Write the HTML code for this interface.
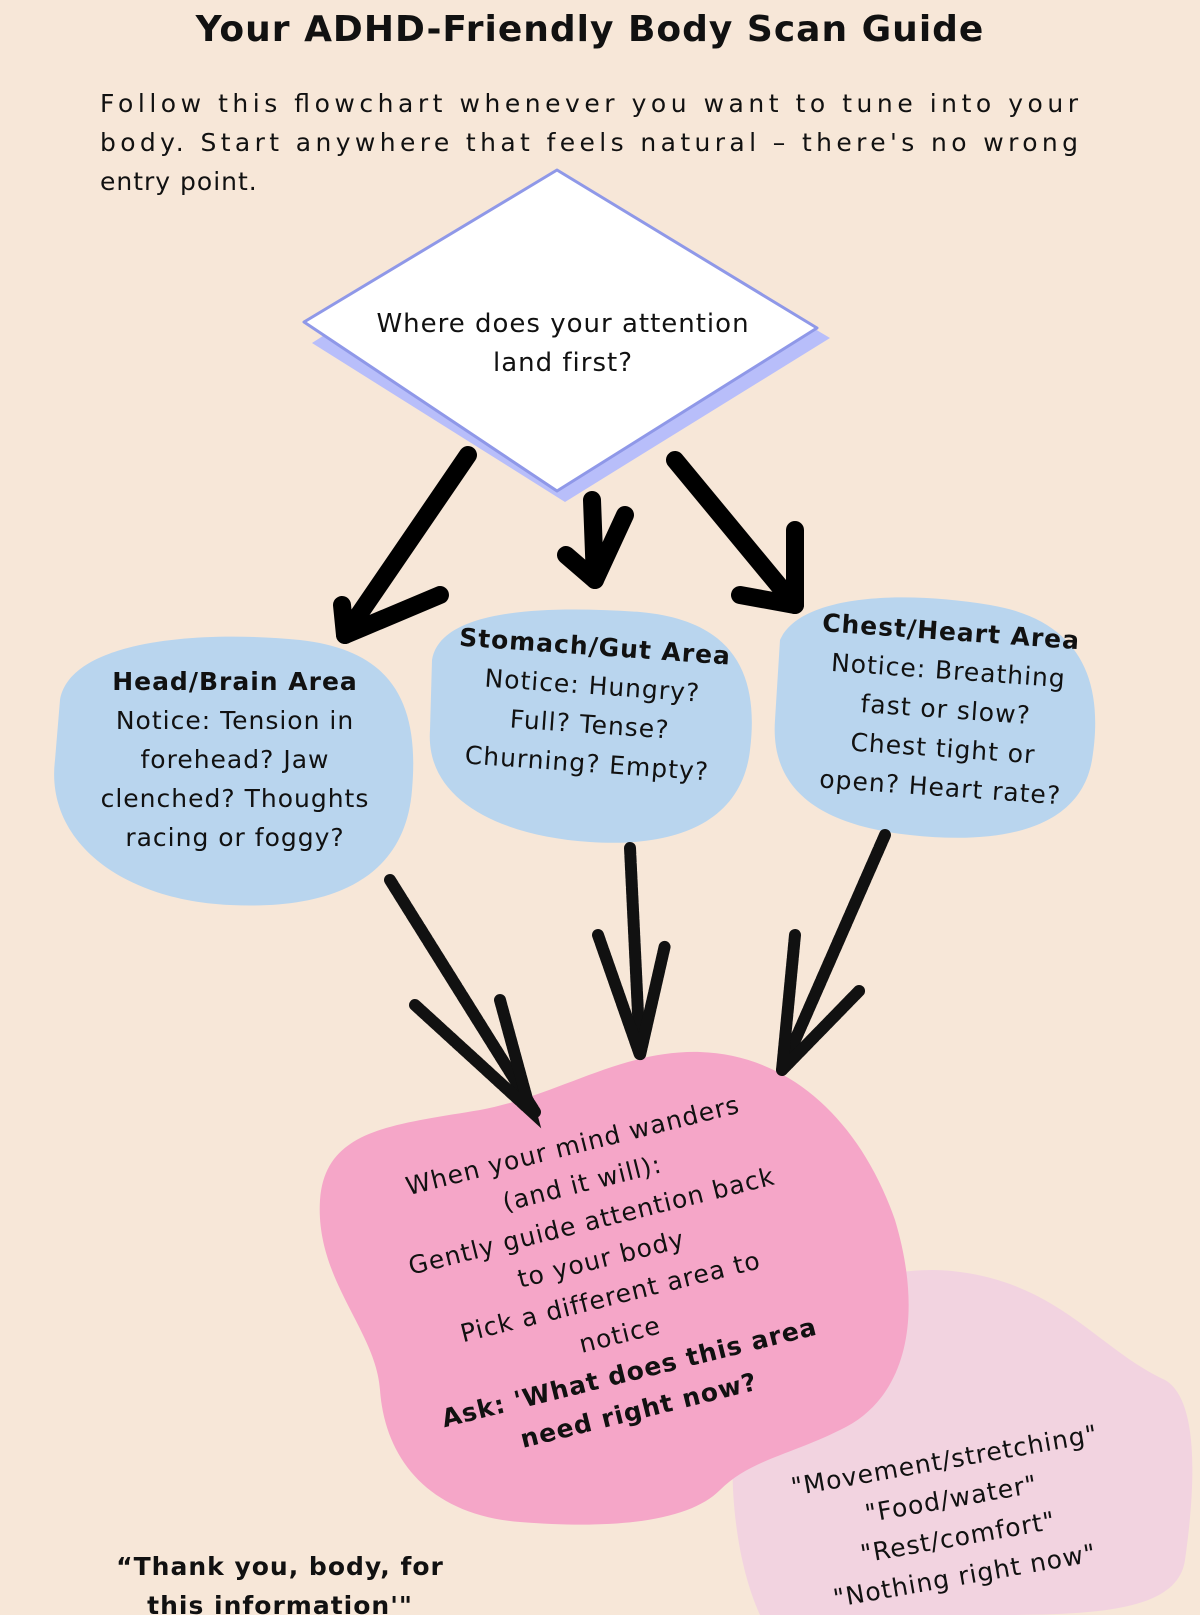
<!DOCTYPE html>
<html><head><meta charset="utf-8"><style>
html,body{margin:0;padding:0;background:#f7e7d8;}
svg{display:block;}
text{font-family:"DejaVu Sans","Liberation Sans",sans-serif;fill:#111;}
</style></head><body>
<svg width="1200" height="1615" viewBox="0 0 1200 1615" xmlns="http://www.w3.org/2000/svg">
<rect width="1200" height="1615" fill="#f7e7d8"/>
<text x="590" y="41" font-size="36" font-weight="bold" text-anchor="middle" letter-spacing="1">Your ADHD-Friendly Body Scan Guide</text>
<text x="100" y="112" font-size="25" textLength="978" lengthAdjust="spacing">Follow this flowchart whenever you want to tune into your</text>
<text x="100" y="151" font-size="25" textLength="978" lengthAdjust="spacing">body. Start anywhere that feels natural – there's no wrong</text>
<text x="100" y="190" font-size="25" letter-spacing="1">entry point.</text>

<!-- diamond -->
<polygon points="565,180 830,338 565,502 312,343" fill="#b8befa"/>
<polygon points="557,170 817,328 557,491 304,322" fill="#fff" stroke="#8f98e8" stroke-width="3" stroke-linejoin="round"/>
<text x="563" y="332" font-size="26" text-anchor="middle" letter-spacing="1">Where does your attention</text>
<text x="563" y="371" font-size="26" text-anchor="middle" letter-spacing="1">land first?</text>

<!-- thick arrows -->
<g stroke="#000" stroke-width="18" stroke-linecap="round" fill="none" stroke-linejoin="round">
<path d="M468,455 L345,635"/><path d="M342,605 L345,635 L440,595"/>
<path d="M592,500 L595,580"/><path d="M566,555 L595,580 L625,515"/>
<path d="M675,460 L795,605"/><path d="M740,595 L795,605 L795,530"/>
</g>

<!-- blue blobs -->
<path d="M60,700 C70,640 200,630 300,640 C390,650 420,700 412,790 C405,880 330,910 230,905 C120,900 45,840 55,760 Z" fill="#b9d5ee"/>
<path d="M432,660 C440,610 540,605 640,612 C730,620 760,670 750,750 C742,820 680,848 590,842 C500,836 425,800 430,730 Z" fill="#b9d5ee"/>
<path d="M780,640 C800,595 900,590 990,605 C1080,620 1105,680 1092,760 C1080,830 1000,845 910,835 C820,825 770,790 775,720 Z" fill="#b9d5ee"/>

<g font-size="25" text-anchor="middle" letter-spacing="1">
<text x="235" y="690" font-weight="bold">Head/Brain Area</text>
<text x="235" y="729">Notice: Tension in</text>
<text x="235" y="768">forehead? Jaw</text>
<text x="235" y="807">clenched? Thoughts</text>
<text x="235" y="846">racing or foggy?</text>
<g transform="rotate(4 590 720)">
<text x="590" y="655" font-weight="bold">Stomach/Gut Area</text>
<text x="590" y="694">Notice: Hungry?</text>
<text x="590" y="733">Full? Tense?</text>
<text x="590" y="772">Churning? Empty?</text>
</g>
<g transform="rotate(4 945 720)">
<text x="945" y="640" font-weight="bold">Chest/Heart Area</text>
<text x="945" y="679">Notice: Breathing</text>
<text x="945" y="718">fast or slow?</text>
<text x="945" y="757">Chest tight or</text>
<text x="945" y="796">open? Heart rate?</text>
</g>
</g>

<!-- light pink blob -->
<path d="M735,1420 C760,1300 880,1260 960,1272 C1060,1285 1100,1350 1165,1380 C1200,1400 1195,1490 1185,1560 C1178,1610 1100,1615 1000,1615 L760,1615 C735,1560 728,1480 735,1420 Z" fill="#f2d3e0"/>
<!-- pink blob -->
<path d="M320,1200 C325,1130 390,1125 480,1110 C560,1095 620,1050 700,1052 C790,1055 860,1120 895,1220 C925,1320 905,1400 840,1430 C790,1455 750,1460 720,1490 C690,1520 620,1530 520,1522 C430,1515 385,1460 380,1390 C376,1330 315,1280 320,1200 Z" fill="#f5a6c8"/>

<!-- scratchy arrows -->
<g stroke="#111" stroke-width="12" stroke-linecap="round" fill="none">
<path d="M390,880 L535,1112" stroke-dasharray="6 2"/>
<path d="M415,1005 L530,1110 L500,1000" stroke-dasharray="6 2"/>
<path d="M630,848 L640,1055" stroke-dasharray="6 2"/>
<path d="M598,935 L640,1055 L665,945" stroke-dasharray="6 2"/>
<path d="M885,835 L782,1070" stroke-dasharray="6 2"/>
<path d="M795,935 L782,1070 L860,990" stroke-dasharray="6 2"/>
</g>

<g font-size="25" text-anchor="middle" letter-spacing="1" transform="rotate(-14 605 1275)">
<text x="605" y="1150">When your mind wanders</text>
<text x="605" y="1189">(and it will):</text>
<text x="605" y="1228">Gently guide attention back</text>
<text x="605" y="1267">to your body</text>
<text x="605" y="1306">Pick a different area to</text>
<text x="605" y="1345">notice</text>
<text x="605" y="1384" font-weight="bold">Ask: 'What does this area</text>
<text x="605" y="1423" font-weight="bold">need right now?</text>
</g>
<g font-size="25" text-anchor="middle" letter-spacing="1" transform="rotate(-10 955 1520)">
<text x="955" y="1468">"Movement/stretching"</text>
<text x="955" y="1507">"Food/water"</text>
<text x="955" y="1546">"Rest/comfort"</text>
<text x="955" y="1585">"Nothing right now"</text>
</g>
<text x="280" y="1575" font-size="25" font-weight="bold" text-anchor="middle" letter-spacing="1">“Thank you, body, for</text>
<text x="280" y="1614" font-size="25" font-weight="bold" text-anchor="middle" letter-spacing="1">this information'"</text>
</svg>
</body></html>
